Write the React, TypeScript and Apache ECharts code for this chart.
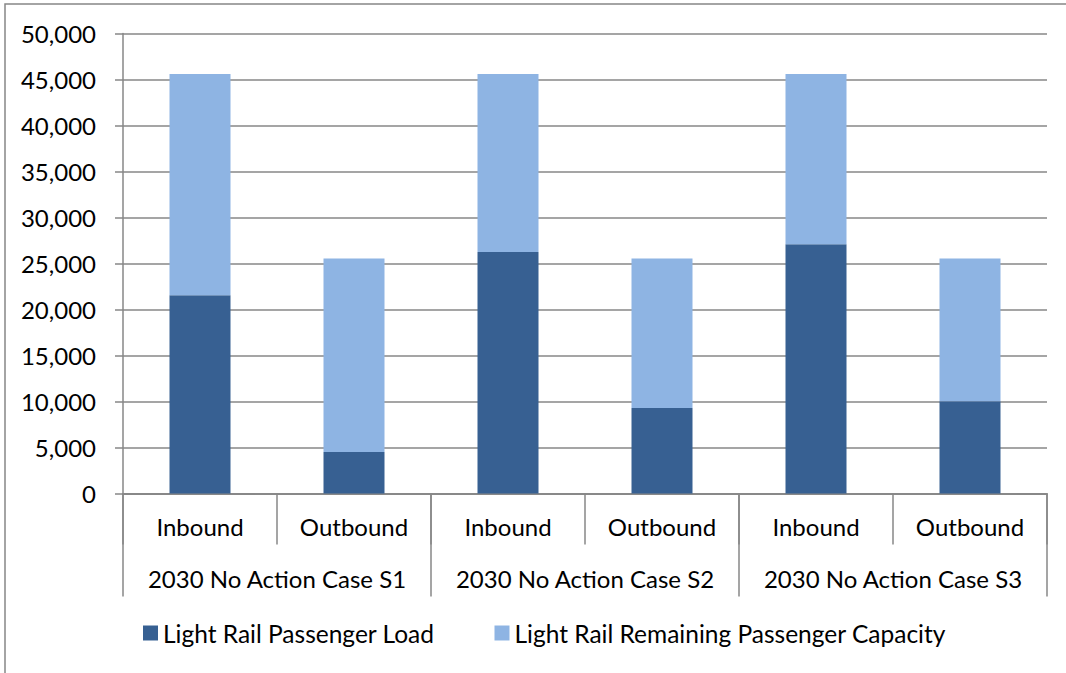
import React, { useEffect, useRef } from "react";
import * as echarts from "echarts";

// Direction labels (inner category level) and scenario groups (outer level)
const directions = ["Inbound", "Outbound", "Inbound", "Outbound", "Inbound", "Outbound"];
const cases = ["2030 No Action Case S1", "2030 No Action Case S2", "2030 No Action Case S3"];

// Stacked values per direction/case
const passengerLoad = [21550, 4520, 26260, 9300, 27100, 10030];
const remainingCapacity = [24050, 21030, 19340, 16250, 18500, 15520];

const seriesNames = ["Light Rail Passenger Load", "Light Rail Remaining Passenger Capacity"];

const FONT = "Lato, 'Open Sans', 'Liberation Sans', sans-serif";
const AXIS_GREY = "#878787";

export default function App() {
  const ref = useRef<HTMLDivElement>(null);

  useEffect(() => {
    document.body.style.margin = "0";
    if (!ref.current) return;
    const chart = echarts.init(ref.current, undefined, { renderer: "svg" });

    const labelStyle = { color: "#000", fontSize: 24, fontFamily: FONT, lineHeight: 28 };

    chart.setOption({
      animation: false,
      backgroundColor: "#fff",
      textStyle: { fontFamily: FONT },
      grid: { left: 123, right: 19, top: 33.5, bottom: 179.5 },
      legend: {
        data: seriesNames,
        left: 138,
        top: 614,
        icon: "rect",
        itemWidth: 15,
        itemHeight: 15,
        itemGap: 60,
        textStyle: { ...labelStyle, fontSize: 24.5 },
      },
      xAxis: [
        {
          type: "category",
          data: directions,
          position: "bottom",
          axisLine: { lineStyle: { color: AXIS_GREY, width: 1.5 } },
          axisTick: {
            show: true,
            length: 51,
            interval: 0,
            alignWithLabel: false,
            lineStyle: { color: AXIS_GREY, width: 1.5 },
          },
          axisLabel: { ...labelStyle, interval: 0, margin: 19 },
        },
        {
          type: "category",
          data: cases,
          position: "bottom",
          offset: 0,
          axisLine: { lineStyle: { color: AXIS_GREY, width: 1.5 } },
          axisTick: {
            show: true,
            length: 103,
            interval: 0,
            alignWithLabel: false,
            lineStyle: { color: AXIS_GREY, width: 1.5 },
          },
          axisLabel: { ...labelStyle, interval: 0, margin: 71 },
          splitLine: { show: false },
        },
      ],
      yAxis: {
        type: "value",
        min: 0,
        max: 50000,
        interval: 5000,
        axisLine: { show: true, lineStyle: { color: AXIS_GREY, width: 1.5 } },
        axisTick: { show: true, length: 8, lineStyle: { color: AXIS_GREY, width: 1.5 } },
        splitLine: { show: true, lineStyle: { color: AXIS_GREY, width: 1.5 } },
        axisLabel: {
          ...labelStyle,
          margin: 27,
          formatter: (v: number) => v.toLocaleString("en-US"),
        },
      },
      series: [
        {
          name: seriesNames[0],
          type: "bar",
          stack: "total",
          xAxisIndex: 0,
          barWidth: 61,
          data: passengerLoad,
          itemStyle: { color: "#376092" },
        },
        {
          name: seriesNames[1],
          type: "bar",
          stack: "total",
          xAxisIndex: 0,
          barWidth: 61,
          data: remainingCapacity,
          itemStyle: { color: "#8EB4E3" },
        },
      ],
      graphic: [
        {
          type: "rect",
          silent: true,
          shape: { x: 5, y: 4, width: 1080, height: 690 },
          style: { fill: "none", stroke: AXIS_GREY, lineWidth: 1.5 },
        },
      ],
    });

    return () => chart.dispose();
  }, []);

  return <div ref={ref} style={{ width: 1066, height: 673 }} />;
}
